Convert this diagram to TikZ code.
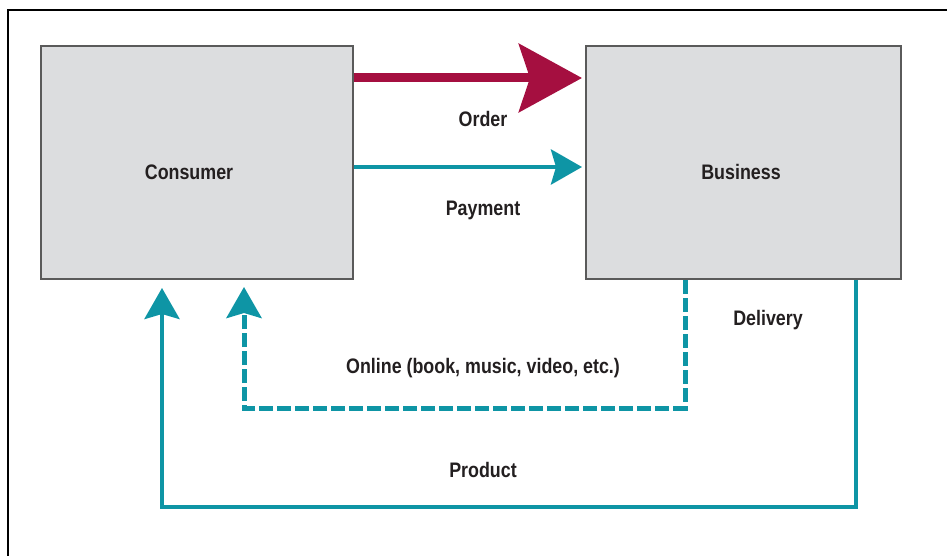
\documentclass[tikz,border=0pt]{standalone}
\usepackage{fontspec}
\newfontfamily\labfont{Liberation Sans}[FakeStretch=0.85]
\usetikzlibrary{arrows.meta}
\definecolor{boxgray}{HTML}{DCDDDF}
\definecolor{boxline}{HTML}{5A5A5A}
\definecolor{crimson}{HTML}{A50F40}
\definecolor{tealc}{HTML}{0E95A5}
\definecolor{txt}{HTML}{231F20}
\tikzset{
  x=1pt, y=1pt,
  party/.style={draw=boxline, line width=2pt, fill=boxgray, minimum width=312pt, minimum height=233pt, inner sep=0pt},
  lab/.style={font=\labfont\bfseries\fontsize{21}{25}\selectfont, text=txt, inner sep=0pt},
  orderarrow/.style={draw=crimson, line width=9pt, -{Stealth[length=63pt, width=68pt, inset=11pt, fill=crimson]}},
  tealarrow/.style={draw=tealc, line width=4.5pt, -{Stealth[length=31pt, width=35pt, inset=5pt, fill=tealc]}},
  tealdash/.style={tealarrow, line width=5pt, dash pattern=on 14pt off 4pt},
}
\begin{document}
\begin{tikzpicture}
\useasboundingbox (0,0) rectangle (947,-556);
\fill[white] (0,0) rectangle (947,-556);
\draw[black, line width=2pt] (8,-560) -- (8,-10) -- (950,-10);
\node[party] (consumer) at (197,-162.5) {};
\node[party, minimum width=315pt] (business) at (743.5,-162.5) {};
\node[lab] (consumerlab) at (189,-172) {Consumer};
\node[lab] (businesslab) at (741,-172) {Business};
\node[lab] (order) at (483,-119) {Order};
\node[lab] (payment) at (483,-210) {Payment};
\node[lab] (delivery) at (768,-320) {Delivery};
\node[lab] (online) at (483,-368) {Online (book, music, video, etc.)};
\node[lab] (product) at (483,-470) {Product};
\coordinate (d1) at (685,-408);
\coordinate (d2) at (244,-408);
\coordinate (p1) at (856,-507);
\coordinate (p2) at (162,-507);
\draw[orderarrow, shorten >=3pt] (consumer.east |- 0,-78) -- (business.west |- 0,-78);
\draw[tealarrow, shorten >=3pt] (consumer.east |- 0,-167) -- (business.west |- 0,-167);
\draw[tealdash, shorten >=7pt] (business.south -| d1) -- (d1) -- (d2) -- (consumer.south -| d2);
\draw[tealarrow, shorten >=8pt] (business.south -| p1) -- (p1) -- (p2) -- (consumer.south -| p2);
\end{tikzpicture}
\end{document}
